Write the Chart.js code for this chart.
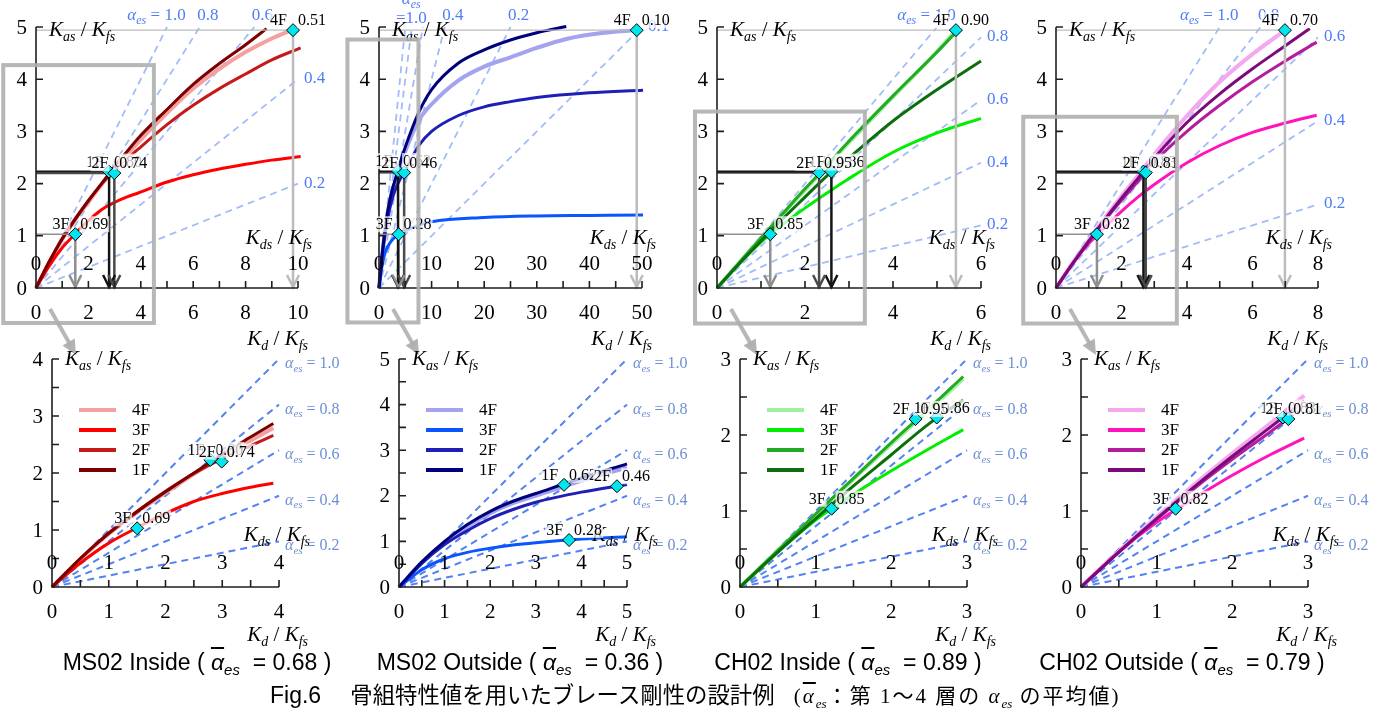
<!DOCTYPE html>
<html>
<head>
<meta charset="utf-8">
<title>Fig.6 brace stiffness design</title>
<script src="https://cdn.jsdelivr.net/npm/chart.js"></script>
<style>
  body { margin: 0; background: #fff; }
  #wrap { position: relative; width: 1381px; height: 711px; overflow: hidden; background: #fff; }
  #wrap canvas { position: absolute; left: 0; top: 0; }
  .cap { position: absolute; top: 649px; width: 420px; text-align: center; white-space: nowrap;
         font: 23px 'Liberation Sans', Arial, sans-serif; color: #000; }
  .ov { font-style: italic; text-decoration: overline; }
  .cap sub, #fig sub { font-size: 15px; font-style: italic; line-height: 0; vertical-align: -5px; }
  #fig { position: absolute; top: 677px; left: 270px; white-space: nowrap; color: #000;
         font: 23px 'Liberation Sans', 'Noto Sans CJK JP', sans-serif; }
  #fig .jp { font-family: 'Noto Sans CJK JP', sans-serif; font-size: 22.4px; margin-left: 10px; }
  #fig .note { font: 21px 'Liberation Serif', 'Noto Sans CJK JP', serif; letter-spacing: 2px; }
  #fig .note sub { font-size: 13px; letter-spacing: 0; }
</style>
</head>
<body>
<div id="wrap">
  <canvas id="c0" width="1381" height="711"></canvas>
  <canvas id="c1" width="1381" height="711"></canvas>
  <canvas id="c2" width="1381" height="711"></canvas>
  <canvas id="c3" width="1381" height="711"></canvas>
  <canvas id="c4" width="1381" height="711"></canvas>
  <canvas id="c5" width="1381" height="711"></canvas>
  <canvas id="c6" width="1381" height="711"></canvas>
  <canvas id="c7" width="1381" height="711"></canvas>
  <div id="fig">Fig.6&nbsp;&nbsp;&nbsp;<span class="jp">骨組特性値を用いたブレース剛性の設計例</span>&nbsp;&nbsp;&nbsp;<span class="note">(<span class="ov">α</span><sub>es</sub>：第 1～4 層の <i>α</i><sub>es</sub> の平均値)</span></div>
</div>
<script>
// ---- data (Kd/Kfs -> Kas/Kfs), floors 1F..4F ----
// MS02 Inside
var msIn1Fx = [0, 0.5, 1, 1.5, 2, 2.5, 3, 3.5, 3.9, 5, 6, 7, 8, 8.8];
var msIn1Fy = [0, 0.5, 0.94, 1.32, 1.67, 2.0, 2.33, 2.63, 2.87, 3.42, 3.9, 4.3, 4.66, 4.97];
var msIn2Fx = [0, 0.5, 1, 1.5, 2, 2.5, 3, 3.5, 3.9, 5, 6, 7, 8, 9, 10.1];
var msIn2Fy = [0, 0.5, 0.95, 1.33, 1.68, 1.99, 2.25, 2.48, 2.66, 3.13, 3.5, 3.82, 4.1, 4.37, 4.6];
var msIn3Fx = [0, 0.5, 1, 1.5, 2, 2.5, 3, 3.5, 3.9, 5, 6, 7, 8, 9, 10.1];
var msIn3Fy = [0, 0.42, 0.77, 1.04, 1.29, 1.5, 1.64, 1.75, 1.82, 2.03, 2.17, 2.28, 2.37, 2.45, 2.52];
var msIn4Fx = [0, 0.5, 1, 1.5, 2, 2.5, 3, 3.5, 3.9, 5, 6, 7, 8, 9, 9.75];
var msIn4Fy = [0, 0.49, 0.93, 1.31, 1.65, 1.98, 2.29, 2.57, 2.79, 3.35, 3.82, 4.2, 4.52, 4.78, 4.94];
// MS02 Outside
var msOut1Fx = [0, 0.5, 1, 1.5, 2, 2.5, 3, 4, 5, 7.5, 10, 15, 20, 25, 30, 35.6];
var msOut1Fy = [0, 0.55, 1.0, 1.37, 1.66, 1.88, 2.05, 2.39, 2.7, 3.35, 3.8, 4.3, 4.56, 4.75, 4.89, 5.01];
var msOut2Fx = [0, 0.5, 1, 1.5, 2, 2.5, 3, 4, 5, 7.5, 10, 15, 20, 25, 30, 40, 50.2];
var msOut2Fy = [0, 0.52, 0.93, 1.24, 1.5, 1.7, 1.86, 2.08, 2.25, 2.72, 3.0, 3.3, 3.47, 3.57, 3.65, 3.74, 3.79];
var msOut3Fx = [0, 0.5, 1, 1.5, 2, 2.5, 3, 4, 5, 7.5, 10, 20, 30, 40, 50.2];
var msOut3Fy = [0, 0.38, 0.62, 0.76, 0.85, 0.92, 0.97, 1.05, 1.1, 1.2, 1.27, 1.35, 1.38, 1.39, 1.4];
var msOut4Fx = [0, 0.5, 1, 1.5, 2, 2.5, 3, 4, 5, 7.5, 10, 15, 20, 25, 30, 36, 42, 49];
var msOut4Fy = [0, 0.53, 0.97, 1.33, 1.62, 1.84, 2.0, 2.33, 2.62, 3.2, 3.52, 3.97, 4.24, 4.42, 4.6, 4.78, 4.88, 4.94];
// CH02 Inside
var chIn1Fx = [0, 0.5, 1, 1.5, 2, 2.5, 2.95, 4, 5, 6];
var chIn1Fy = [0, 0.46, 0.9, 1.33, 1.74, 2.15, 2.46, 3.2, 3.8, 4.35];
var chIn2Fx = [0, 0.5, 1, 1.5, 2, 2.5, 2.95, 4, 5, 5.43];
var chIn2Fy = [0, 0.48, 0.96, 1.43, 1.9, 2.35, 2.77, 3.68, 4.52, 4.9];
var chIn3Fx = [0, 0.5, 1, 1.5, 2, 2.5, 2.95, 4, 5, 6];
var chIn3Fy = [0, 0.46, 0.88, 1.22, 1.53, 1.82, 2.07, 2.6, 2.97, 3.25];
var chIn4Fx = [0, 0.5, 1, 1.5, 2, 2.5, 2.95, 4, 5, 5.43];
var chIn4Fy = [0, 0.48, 0.95, 1.42, 1.88, 2.33, 2.74, 3.66, 4.53, 4.94];
// CH02 Outside
var chOut1Fx = [0, 0.5, 1, 1.5, 2, 2.5, 2.95, 4, 5, 6, 7, 7.75];
var chOut1Fy = [0, 0.46, 0.9, 1.32, 1.72, 2.1, 2.45, 3.17, 3.72, 4.2, 4.64, 4.97];
var chOut2Fx = [0, 0.5, 1, 1.5, 2, 2.5, 2.95, 4, 5, 6, 7, 7.96];
var chOut2Fy = [0, 0.46, 0.89, 1.3, 1.68, 2.04, 2.38, 3.0, 3.5, 3.95, 4.35, 4.71];
var chOut3Fx = [0, 0.5, 1, 1.5, 2, 2.5, 2.95, 4, 5, 6, 7, 7.96];
var chOut3Fy = [0, 0.46, 0.85, 1.17, 1.47, 1.74, 1.96, 2.4, 2.73, 2.98, 3.16, 3.31];
var chOut4Fx = [0, 0.5, 1, 1.5, 2, 2.5, 2.95, 4, 5, 6, 7];
var chOut4Fy = [0, 0.47, 0.92, 1.35, 1.76, 2.15, 2.52, 3.3, 3.95, 4.48, 4.94];

// design points (1F, 2F, 3F, 4F)
var floors = ['1F', '2F', '3F', '4F'];
var msInMx = [2.79, 2.99, 1.5, 9.81],  msInMy = [2.23, 2.2, 1.03, 4.94],  msInVal = ['0.80', '0.74', '0.69', '0.51'];
var msOutMx = [3.62, 4.78, 3.73, 49],  msOutMy = [2.24, 2.21, 1.03, 4.94], msOutVal = ['0.62', '0.46', '0.28', '0.10'];
var chInMx = [2.6, 2.32, 1.21, 5.43],  chInMy = [2.23, 2.21, 1.03, 4.94],  chInVal = ['0.86', '0.95', '0.85', '0.90'];
var chOutMx = [2.67, 2.74, 1.25, 6.99], chOutMy = [2.23, 2.21, 1.03, 4.94], chOutVal = ['0.83', '0.81', '0.82', '0.70'];

// alpha_es reference lines
var alphaTop = [1.0, 0.8, 0.6, 0.4, 0.2];
var alphaMsOut = [1.0, 0.8, 0.6, 0.4, 0.2, 0.1];
var alphaZoom = [1.0, 0.8, 0.6, 0.4, 0.2];

var caseNames = ['MS02 Inside', 'MS02 Outside', 'CH02 Inside', 'CH02 Outside'];
var caseMeans = ['0.68', '0.36', '0.89', '0.79'];
var caseCenters = [197, 520, 848, 1182];

// ---- styles ----
var W = 1381, H = 711;
var SERIF = "'Liberation Serif', 'Times New Roman', serif";
var redCols = ['#7d0000', '#c41a1a', '#ff0000', '#f5a0a0'];
var blueCols = ['#00007d', '#1f1fb8', '#0a55ff', '#a3a3f0'];
var greenCols = ['#0c6e0c', '#22aa22', '#00ee00', '#9ff09f'];
var purpleCols = ['#7b0a7b', '#b41c9e', '#ff14bc', '#f5a8ee'];
var refCols = ['#141414', '#4a4a4a', '#8f8f8f', '#bcbcbc'];

var sets = [
  { xs: [msIn1Fx, msIn2Fx, msIn3Fx, msIn4Fx], ys: [msIn1Fy, msIn2Fy, msIn3Fy, msIn4Fy], cols: redCols, mx: msInMx, my: msInMy, mv: msInVal },
  { xs: [msOut1Fx, msOut2Fx, msOut3Fx, msOut4Fx], ys: [msOut1Fy, msOut2Fy, msOut3Fy, msOut4Fy], cols: blueCols, mx: msOutMx, my: msOutMy, mv: msOutVal },
  { xs: [chIn1Fx, chIn2Fx, chIn3Fx, chIn4Fx], ys: [chIn1Fy, chIn2Fy, chIn3Fy, chIn4Fy], cols: greenCols, mx: chInMx, my: chInMy, mv: chInVal },
  { xs: [chOut1Fx, chOut2Fx, chOut3Fx, chOut4Fx], ys: [chOut1Fy, chOut2Fy, chOut3Fy, chOut4Fy], cols: purpleCols, mx: chOutMx, my: chOutMy, mv: chOutVal }
];

var panels = [
  { set: 0, top: true, area: [36, 27, 298, 288], xMax: 10, yMax: 5, xTick: 1, xLab: 2, yTick: 1, yLab: 1,
    alphas: alphaTop, show: [1.0, 0.8, 0.6, 0.4, 0.2], box: [-1.25, -0.67, 4.5, 4.27] },
  { set: 1, top: true, area: [379, 27, 642, 288], xMax: 50, yMax: 5, xTick: 5, xLab: 10, yTick: 1, yLab: 1,
    alphas: alphaMsOut, show: [1.0, 0.4, 0.2, 0.1], stack: true, box: [-6.0, -0.66, 7.5, 4.76] },
  { set: 2, top: true, area: [717, 27, 981, 288], xMax: 6, yMax: 5, xTick: 1, xLab: 2, yTick: 1, yLab: 1,
    alphas: alphaTop, show: [1.0, 0.8, 0.6, 0.4, 0.2], box: [-0.5, -0.68, 3.36, 3.38] },
  { set: 3, top: true, area: [1056, 27, 1318, 288], xMax: 8, yMax: 5, xTick: 1, xLab: 2, yTick: 1, yLab: 1,
    alphas: alphaTop, show: [1.0, 0.8, 0.6, 0.4, 0.2], box: [-1.0, -0.68, 3.69, 3.28] },
  { set: 0, top: false, area: [52, 359, 279, 587], xMax: 4, yMax: 4, xTick: 0.5, xLab: 1, yTick: 0.5, yLab: 1,
    alphas: alphaZoom, curveEnd: 3.9 },
  { set: 1, top: false, area: [399, 359, 627, 587], xMax: 5, yMax: 5, xTick: 0.5, xLab: 1, yTick: 0.5, yLab: 1,
    alphas: alphaZoom, curveEnd: 5 },
  { set: 2, top: false, area: [740, 359, 967, 587], xMax: 3, yMax: 3, xTick: 0.5, xLab: 1, yTick: 0.5, yLab: 1,
    alphas: alphaZoom, curveEnd: 2.95 },
  { set: 3, top: false, area: [1081, 359, 1308, 587], xMax: 3, yMax: 3, xTick: 0.5, xLab: 1, yTick: 0.5, yLab: 1,
    alphas: alphaZoom, curveEnd: 2.95 }
];

// ---- text helpers ----
function rich(ctx, parts, x, y, align) {
  var w = 0;
  parts.forEach(function (q) { ctx.font = q.f; q.w = ctx.measureText(q.t).width; w += q.w; });
  var cx = align === 'right' ? x - w : (align === 'center' ? x - w / 2 : x);
  ctx.textAlign = 'left';
  ctx.textBaseline = 'alphabetic';
  parts.forEach(function (q) { ctx.font = q.f; ctx.fillText(q.t, cx, y + (q.dy || 0)); cx += q.w; });
  return w;
}
function ratioParts(a, b, s) {
  var it = 'italic ' + s + 'px ' + SERIF, sm = 'italic ' + Math.round(s * 0.68) + 'px ' + SERIF, n = s + 'px ' + SERIF;
  return [{ t: 'K', f: it }, { t: a, f: sm, dy: s * 0.22 }, { t: ' / ', f: n }, { t: 'K', f: it }, { t: b, f: sm, dy: s * 0.22 }];
}
function alphaParts(s, rest) {
  return [{ t: 'α', f: 'italic ' + s + 'px ' + SERIF }, { t: 'es', f: 'italic ' + Math.round(s * 0.68) + 'px ' + SERIF, dy: s * 0.22 },
          { t: rest, f: s + 'px ' + SERIF }];
}
function boxed(ctx, txt, x, y, align) {
  ctx.font = '16px ' + SERIF;
  var w = ctx.measureText(txt).width;
  var lx = align === 'right' ? x - w : x;
  ctx.fillStyle = 'rgba(255,255,255,0.72)';
  ctx.fillRect(lx - 1, y - 13, w + 2, 16);
  ctx.fillStyle = '#000';
  ctx.textAlign = 'left';
  ctx.textBaseline = 'alphabetic';
  ctx.fillText(txt, lx, y);
}
function alphaEnd(a, p) {
  var xe = Math.min(p.xMax, p.yMax / a);
  return [xe, a * xe];
}

function decoPlugin(p) {
  var s = sets[p.set];
  return {
    id: 'deco',
    afterDatasetsDraw: function (chart) {
      var ctx = chart.ctx, xs = chart.scales.x, ys = chart.scales.y;
      var X = function (v) { return xs.getPixelForValue(v); };
      var Y = function (v) { return ys.getPixelForValue(v); };
      var x0 = X(0), y0 = Y(0), x1 = X(p.xMax), y1 = Y(p.yMax);
      ctx.save();

      // arrow heads of the design-point read-off lines
      if (p.top) {
        s.mx.forEach(function (mx, i) {
          var px = X(mx);
          ctx.strokeStyle = refCols[i];
          ctx.lineWidth = 2.5;
          ctx.beginPath();
          ctx.moveTo(px - 6, y0 - 13); ctx.lineTo(px, y0 - 1); ctx.lineTo(px + 6, y0 - 13);
          ctx.stroke();
        });
      }

      // axes
      ctx.strokeStyle = '#1e1e1e';
      ctx.lineWidth = 1.6;
      ctx.beginPath();
      ctx.moveTo(x0, y1); ctx.lineTo(x0, y0); ctx.lineTo(x1, y0);
      ctx.stroke();
      ctx.beginPath();
      var nx = Math.round(p.xMax / p.xTick), ny = Math.round(p.yMax / p.yTick), i;
      for (i = 1; i <= nx; i++) { var tx = X(i * p.xTick); ctx.moveTo(tx, y0); ctx.lineTo(tx, y0 - 7); }
      for (i = 1; i <= ny; i++) { var ty = Y(i * p.yTick); ctx.moveTo(x0, ty); ctx.lineTo(x0 + 7, ty); }
      ctx.stroke();
      ctx.fillStyle = '#000';
      ctx.font = '21px ' + SERIF;
      ctx.textBaseline = 'middle';
      ctx.textAlign = 'center';
      var nl = Math.round(p.xMax / p.xLab);
      for (i = 0; i <= nl; i++) {
        var lx = X(i * p.xLab), lt = String(i * p.xLab);
        ctx.fillText(lt, lx, y0 + 25);
        ctx.fillText(lt, lx, y0 - 24);
      }
      ctx.textAlign = 'right';
      var nyl = Math.round(p.yMax / p.yLab);
      for (i = 0; i <= nyl; i++) ctx.fillText(String(i * p.yLab), x0 - 9, Y(i * p.yLab) + 1);

      // axis titles
      ctx.fillStyle = '#000';
      rich(ctx, ratioParts('as', 'fs', 21), x0 + 13, y1 + (p.top ? 9 : 6), 'left');
      rich(ctx, ratioParts('ds', 'fs', 21), x1 + (p.top ? 14 : 31), y0 + (p.top ? -44 : -46), 'right');
      rich(ctx, ratioParts('d', 'fs', 21), x1 + (p.top ? 10 : 29), y0 + (p.top ? 57 : 54), 'right');

      // alpha labels
      if (p.top) {
        ctx.fillStyle = '#4f7df9';
        var firstTop = true;
        p.alphas.forEach(function (a) {
          if (p.show.indexOf(a) < 0) return;
          var e = alphaEnd(a, p), ex = X(e[0]), ey = Y(e[1]);
          var num = a.toFixed(1);
          if (e[1] >= p.yMax - 1e-9 && e[0] < p.xMax - 1e-9) {
            var cx = ex + 8, by = y1 - 7;
            if (firstTop && p.stack) {
              rich(ctx, [{ t: '=' + num, f: '17px ' + SERIF }], cx - 2, by + 3, 'center');
              rich(ctx, alphaParts(17, ''), cx - 2, by - 16, 'center');
            } else {
              ctx.font = '17px ' + SERIF;
              var wn = ctx.measureText(num).width;
              rich(ctx, [{ t: num, f: '17px ' + SERIF }], cx, by, 'center');
              if (firstTop) rich(ctx, alphaParts(17, ' = '), cx - wn / 2, by, 'right');
            }
            firstTop = false;
          } else {
            rich(ctx, [{ t: num, f: '17px ' + SERIF }], ex + 6, ey + 4, 'left');
          }
        });
      } else {
        ctx.fillStyle = '#6d8fd4';
        p.alphas.forEach(function (a) {
          var e = alphaEnd(a, p);
          rich(ctx, alphaParts(16, ' = ' + a.toFixed(1)), X(e[0]) + 6, Y(e[1]) + 9, 'left');
        });
      }

      // design point labels (3F, 4F, 1F, 2F so that 2F sits on top)
      [2, 3, 0, 1].forEach(function (k) {
        if (s.mx[k] > p.xMax || s.my[k] > p.yMax) return;
        var px = X(s.mx[k]), py = Y(s.my[k]);
        boxed(ctx, floors[k], px - 6, py - 5, 'right');
        boxed(ctx, s.mv[k], px + 5, py - 5, 'left');
      });

      // legend for zoomed panels
      if (!p.top) {
        [3, 2, 1, 0].forEach(function (k, j) {
          var ly = y1 + 51 + j * 20;
          ctx.strokeStyle = s.cols[k];
          ctx.lineWidth = 4;
          ctx.beginPath(); ctx.moveTo(x0 + 27, ly); ctx.lineTo(x0 + 64, ly); ctx.stroke();
          ctx.fillStyle = '#000';
          ctx.font = '17px ' + SERIF;
          ctx.textAlign = 'left';
          ctx.textBaseline = 'middle';
          ctx.fillText(floors[k], x0 + 80, ly + 1);
        });
      }

      // zoom frame + pointer to the lower panel
      if (p.top) {
        ctx.strokeStyle = 'rgba(175,175,175,0.9)';
        ctx.lineWidth = 4;
        var bx0 = X(p.box[0]), by0 = Y(p.box[1]), bx1 = X(p.box[2]), by1 = Y(p.box[3]);
        ctx.strokeRect(bx0, by1, bx1 - bx0, by0 - by1);
        var sx = x0 + 14, sy = y0 + 21, exx = x0 + 40, eyy = y0 + 67;
        var ang = Math.atan2(eyy - sy, exx - sx);
        ctx.beginPath();
        ctx.moveTo(sx, sy);
        ctx.lineTo(exx - 10 * Math.cos(ang), eyy - 10 * Math.sin(ang));
        ctx.stroke();
        ctx.fillStyle = 'rgba(175,175,175,0.95)';
        ctx.beginPath();
        ctx.moveTo(exx, eyy);
        ctx.lineTo(exx - 15 * Math.cos(ang) + 7 * Math.sin(ang), eyy - 15 * Math.sin(ang) - 7 * Math.cos(ang));
        ctx.lineTo(exx - 15 * Math.cos(ang) - 7 * Math.sin(ang), eyy - 15 * Math.sin(ang) + 7 * Math.cos(ang));
        ctx.closePath();
        ctx.fill();
      }
      ctx.restore();
    }
  };
}

panels.forEach(function (p, n) {
  var s = sets[p.set];
  var end = p.top ? Infinity : p.curveEnd;
  var ds = [];
  // alpha lines
  p.alphas.forEach(function (a) {
    var e = alphaEnd(a, p);
    ds.push({ data: [{ x: 0, y: 0 }, { x: e[0], y: e[1] }], showLine: true, borderColor: p.top ? '#a3bcf7' : '#5383f2',
              borderDash: [7, 5], borderWidth: p.top ? 1.8 : 2, pointRadius: 0, order: 20, clip: false });
  });
  // floor curves
  [3, 2, 1, 0].forEach(function (k) {
    var pts = [];
    for (var i = 0; i < s.xs[k].length; i++) {
      if (s.xs[k][i] <= end + 1e-9) pts.push({ x: s.xs[k][i], y: s.ys[k][i] });
    }
    ds.push({ data: pts, showLine: true, borderColor: s.cols[k], borderWidth: k === 3 ? 4 : 3, pointRadius: 0,
              cubicInterpolationMode: 'monotone', order: 5 + k, clip: false });
  });
  // read-off lines from design points to the axes
  if (p.top) {
    s.mx.forEach(function (mx, k) {
      ds.push({ data: [{ x: 0, y: s.my[k] }, { x: mx, y: s.my[k] }], showLine: true, borderColor: refCols[k],
                borderWidth: k < 2 ? 2 : 1.4, pointRadius: 0, order: 3, clip: false });
      ds.push({ data: [{ x: mx, y: s.my[k] }, { x: mx, y: 0 }], showLine: true, borderColor: refCols[k],
                borderWidth: 2.5, pointRadius: 0, order: 3, clip: false });
    });
  }
  // design points
  var mk = [];
  s.mx.forEach(function (mx, k) { if (mx <= p.xMax && s.my[k] <= p.yMax) mk.push({ x: mx, y: s.my[k] }); });
  ds.push({ data: mk, showLine: false, pointStyle: 'rectRot', pointRadius: 6.5, pointBackgroundColor: '#00e6ee',
            pointBorderColor: '#000', pointBorderWidth: 1, order: 1, clip: false });

  new Chart(document.getElementById('c' + n), {
    type: 'scatter',
    data: { datasets: ds },
    options: {
      responsive: false,
      animation: false,
      events: [],
      layout: { padding: { left: p.area[0], top: p.area[1], right: W - p.area[2], bottom: H - p.area[3] } },
      scales: {
        x: { type: 'linear', min: 0, max: p.xMax, display: false },
        y: { type: 'linear', min: 0, max: p.yMax, display: false }
      },
      plugins: { legend: { display: false }, tooltip: { enabled: false } }
    },
    plugins: [decoPlugin(p)]
  });
});

// captions under each column
var wrap = document.getElementById('wrap');
caseNames.forEach(function (nm, i) {
  var d = document.createElement('div');
  d.className = 'cap';
  d.style.left = (caseCenters[i] - 210) + 'px';
  d.innerHTML = nm + ' ( <span class="ov">α</span><sub>es</sub> &nbsp;= ' + caseMeans[i] + ' )';
  wrap.appendChild(d);
});
</script>
</body>
</html>
